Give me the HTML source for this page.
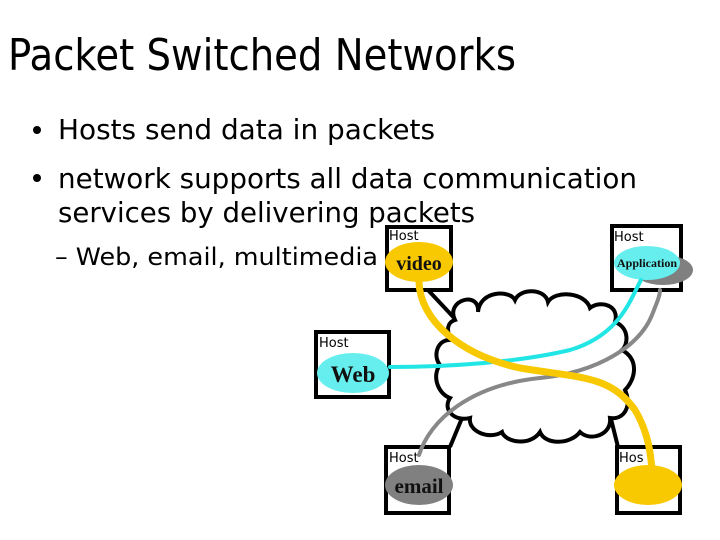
<!DOCTYPE html>
<html><head><meta charset="utf-8"><style>
html,body{margin:0;padding:0;background:#fff;}
svg{display:block;}
</style></head><body>
<svg width="720" height="540" viewBox="0 0 720 540" xmlns="http://www.w3.org/2000/svg">
<rect width="720" height="540" fill="#fff"/>
<g font-family="DejaVu Sans, Liberation Sans, sans-serif" fill="#000">
<text x="8" y="70" font-size="44" textLength="508" lengthAdjust="spacingAndGlyphs">Packet Switched Networks</text>
<circle cx="37" cy="130" r="4"/>
<text x="58" y="139" font-size="28" textLength="377" lengthAdjust="spacingAndGlyphs">Hosts send data in packets</text>
<circle cx="37" cy="178" r="4"/>
<text x="58" y="188" font-size="28" textLength="579" lengthAdjust="spacingAndGlyphs">network supports all data communication</text>
<text x="58" y="222" font-size="28" textLength="417" lengthAdjust="spacingAndGlyphs">services by delivering packets</text>
<text x="55" y="265" font-size="24" textLength="323" lengthAdjust="spacingAndGlyphs">– Web, email, multimedia</text>
</g>
<g stroke="#000" stroke-width="4" fill="none">
<line x1="428" y1="290" x2="458" y2="322"/>
<line x1="450" y1="447" x2="462" y2="418"/>
<line x1="618" y1="447" x2="610" y2="415"/>
</g>
<path d="M455 320 C445 300 480 290 478 312 C480 290 510 290 515 300 C520 288 545 288 548 302 C555 290 585 292 590 308 C600 300 620 305 615 322 C630 328 628 345 622 350 C640 360 635 380 625 390 C632 405 625 420 610 418 C612 435 590 442 580 432 C570 445 545 445 540 432 C530 447 505 442 502 432 C490 440 468 432 470 418 C455 422 442 410 450 398 C437 393 432 375 440 365 C432 355 438 338 452 340 C445 330 448 322 455 320 Z" fill="#fff" stroke="#000" stroke-width="4"/>
<g fill="#fff" stroke="#000" stroke-width="4">
<rect x="387" y="227" width="64" height="63"/>
<rect x="612" y="226" width="69" height="64"/>
<rect x="316" y="332" width="73" height="65"/>
<rect x="386" y="447" width="63" height="66"/>
<rect x="617" y="447" width="63" height="66"/>
</g>
<g font-family="DejaVu Sans, Liberation Sans, sans-serif" font-size="13" fill="#000">
<text x="389" y="240">Host</text>
<text x="614" y="241">Host</text>
<text x="319" y="347">Host</text>
<text x="389" y="462">Host</text>
<text x="619" y="462">Hos</text>
</g>
<ellipse cx="663" cy="270" rx="30" ry="15" fill="#808080"/>
<ellipse cx="647" cy="263" rx="33" ry="17" fill="#66eeee"/>
<ellipse cx="419" cy="262" rx="34" ry="20" fill="#f8c800"/>
<ellipse cx="353" cy="373" rx="36" ry="20" fill="#66eeee"/>
<ellipse cx="419" cy="485" rx="34" ry="20" fill="#808080"/>
<ellipse cx="648" cy="485" rx="34" ry="20" fill="#f8c800"/>
<g fill="none" stroke-linecap="round">
<path d="M390 367 C450 367 520 362 570 350 C620 335 630 300 641 280" stroke="#22e6e6" stroke-width="4"/>
<path d="M419 455 C430 420 470 385 540 378 C600 372 640 345 652 315 C658 300 660 295 660 290" stroke="#888" stroke-width="4"/>
<path d="M419 282 C420 320 460 355 520 368 C580 378 610 375 635 410 C650 435 651 460 652 470" stroke="#f8c800" stroke-width="7"/>
</g>
<g font-family="Liberation Serif, serif" font-weight="bold" fill="#111">
<text x="419" y="270" font-size="20" text-anchor="middle">video</text>
<text x="647" y="267" font-size="12" text-anchor="middle">Application</text>
<text x="353" y="382" font-size="23" text-anchor="middle">Web</text>
<text x="419" y="493" font-size="21" text-anchor="middle">email</text>
</g>
</svg>
</body></html>
